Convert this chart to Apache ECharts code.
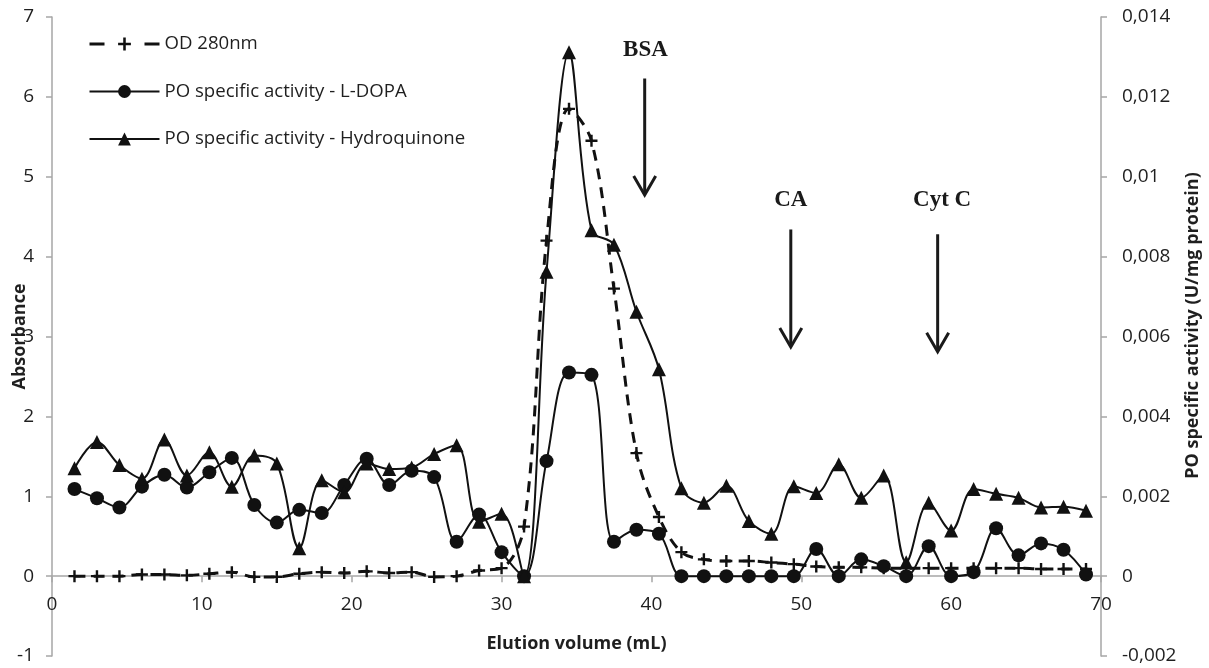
<!DOCTYPE html>
<html>
<head>
<meta charset="utf-8">
<script src="https://cdn.jsdelivr.net/npm/echarts@6/dist/echarts.min.js"></script>
<style>
html,body{margin:0;padding:0;background:#fff;}
#chart{width:1209px;height:668px;}
</style>
</head>
<body>
<div id="chart"></div>
<script>
// Elution volume (mL)
const elutionVolume = [1.5, 3, 4.5, 6, 7.5, 9, 10.5, 12, 13.5, 15, 16.5, 18, 19.5, 21, 22.5, 24, 25.5, 27, 28.5, 30, 31.5,
  33, 34.5, 36, 37.5, 39, 40.5, 42, 43.5, 45, 46.5, 48, 49.5, 51, 52.5, 54, 55.5, 57, 58.5, 60, 61.5, 63, 64.5, 66, 67.5, 69];

// OD 280nm (Absorbance, left axis)
const od280 = [0, 0, 0, 0.02, 0.02, 0.01, 0.03, 0.05, -0.01, -0.01, 0.03, 0.05, 0.04, 0.06, 0.04, 0.05, -0.01, 0, 0.07, 0.10, 0.62,
  4.2, 5.85, 5.45, 3.6, 1.54, 0.74, 0.30, 0.21, 0.19, 0.19, 0.17, 0.15, 0.12, 0.11, 0.11, 0.10, 0.10, 0.10, 0.10, 0.10, 0.10, 0.10, 0.09, 0.09, 0.09];

// PO specific activity - L-DOPA (U/mg protein, right axis)
const poLDopa = [0.00218, 0.00195, 0.00172, 0.00224, 0.00254, 0.00222, 0.00260, 0.00296, 0.00178, 0.00134, 0.00166, 0.00158, 0.00228, 0.00294, 0.00228, 0.00264, 0.00248, 0.00086, 0.00154, 0.00060, 0,
  0.00288, 0.00510, 0.00504, 0.00086, 0.00116, 0.00106, 0, 0, 0, 0, 0, 0, 0.00068, 0, 0.00042, 0.00025, 0, 0.00075, 0, 0.00010, 0.00120, 0.00052, 0.00082, 0.00066, 0.00004];

// PO specific activity - Hydroquinone (U/mg protein, right axis)
const poHydroquinone = [0.00270, 0.00336, 0.00278, 0.00244, 0.00342, 0.00252, 0.00310, 0.00224, 0.00302, 0.00282, 0.00070, 0.00240, 0.00210, 0.00282, 0.00268, 0.00272, 0.00306, 0.00328, 0.00136, 0.00156, 0,
  0.00762, 0.01312, 0.00866, 0.00830, 0.00662, 0.00518, 0.00220, 0.00184, 0.00226, 0.00138, 0.00106, 0.00225, 0.00208, 0.00280, 0.00196, 0.00252, 0.00035, 0.00184, 0.00114, 0.00218, 0.00206, 0.00196, 0.00172, 0.00174, 0.00164];

// Marker annotations: label, x (mL), text y, arrow top y, arrow bottom y (Absorbance units)
const markerLabels = ['BSA', 'CA', 'Cyt C'];
const markerTextX = [39.6, 49.3, 59.4];
const markerTextY = [6.58, 4.71, 4.71];
const markerArrowX = [39.55, 49.3, 59.1];
const markerArrowTop = [6.23, 4.34, 4.28];
const markerArrowBottom = [4.77, 2.87, 2.81];

const seriesNames = ['OD 280nm', 'PO specific activity - L-DOPA', 'PO specific activity - Hydroquinone'];

function pairs(xs, ys) { return xs.map((x, i) => [x, ys[i]]); }

const FONT = '"Open Sans", "DejaVu Sans", sans-serif';
const AXIS_GRAY = '#a6a6a6';
const TEXT = '#1f1f1f';
const plusPath = 'path://M4,0 H6 V4 H10 V6 H6 V10 H4 V6 H0 V4 H4 Z';

const GRID_TOP = 17, GRID_BOTTOM = 12, CHART_H = 668;
const Y_MIN = -1, Y_MAX = 7;
// x axis sits on the y = 0 line of the left axis
const xAxisOffset = -(0 - Y_MIN) / (Y_MAX - Y_MIN) * (CHART_H - GRID_TOP - GRID_BOTTOM);

const chart = echarts.init(document.getElementById('chart'), null, {renderer: 'canvas'});

const option = {
  animation: false,
  backgroundColor: '#ffffff',
  grid: {left: 52, right: 108, top: GRID_TOP, bottom: GRID_BOTTOM, containLabel: false, outerBoundsMode: 'none'},
  legend: {
    orient: 'vertical',
    left: 88,
    top: 34,
    padding: 0,
    itemWidth: 70,
    itemHeight: 16,
    itemGap: 27.5,
    textStyle: {fontFamily: FONT, fontSize: 18.6, color: TEXT, lineHeight: 20},
    data: [
      {name: seriesNames[0], lineStyle: {width: 3, type: [15, 40], color: '#111'}},
      {name: seriesNames[1], lineStyle: {width: 2, color: '#111'}},
      {name: seriesNames[2], lineStyle: {width: 2, color: '#111'}}
    ]
  },
  xAxis: {
    type: 'value',
    position: 'bottom',
    offset: xAxisOffset,
    min: 0, max: 70, interval: 10,
    name: 'Elution volume (mL)',
    nameLocation: 'middle',
    nameGap: 59,
    nameMoveOverlap: false,
    nameTextStyle: {fontFamily: FONT, fontSize: 18, fontWeight: 'bold', color: TEXT},
    axisLine: {show: true, onZero: false, lineStyle: {color: AXIS_GRAY, width: 1.5}},
    axisTick: {show: true, length: 6, lineStyle: {color: AXIS_GRAY, width: 1.5}},
    axisLabel: {fontFamily: FONT, fontSize: 19, color: TEXT, margin: 19},
    splitLine: {show: false}
  },
  yAxis: [
    {
      type: 'value',
      position: 'left',
      min: Y_MIN, max: Y_MAX, interval: 1,
      name: 'Absorbance',
      nameLocation: 'middle',
      nameRotate: 90,
      nameGap: 23,
      nameMoveOverlap: false,
      nameTextStyle: {fontFamily: FONT, fontSize: 18, fontWeight: 'bold', color: TEXT},
      axisLine: {show: true, onZero: false, lineStyle: {color: AXIS_GRAY, width: 1.5}},
      axisTick: {show: true, length: 6, lineStyle: {color: AXIS_GRAY, width: 1.5}},
      axisLabel: {fontFamily: FONT, fontSize: 19, color: TEXT, margin: 18},
      splitLine: {show: false}
    },
    {
      type: 'value',
      position: 'right',
      min: -0.002, max: 0.014, interval: 0.002,
      name: 'PO specific activity (U/mg protein)',
      nameLocation: 'middle',
      nameRotate: 90,
      nameGap: 83,
      nameMoveOverlap: false,
      nameTextStyle: {fontFamily: FONT, fontSize: 18, fontWeight: 'bold', color: TEXT, padding: [0, 0, 0, 22]},
      axisLine: {show: true, onZero: false, lineStyle: {color: AXIS_GRAY, width: 1.5}},
      axisTick: {show: true, length: 6, lineStyle: {color: AXIS_GRAY, width: 1.5}},
      axisLabel: {
        fontFamily: FONT, fontSize: 19, color: TEXT, margin: 21,
        formatter: function (v) {
          const r = Math.round(v * 1000) / 1000;
          return r === 0 ? '0' : String(r).replace('.', ',');
        }
      },
      splitLine: {show: false}
    }
  ],
  series: [
    {
      name: seriesNames[0],
      type: 'line',
      yAxisIndex: 0,
      data: pairs(elutionVolume, od280),
      smooth: 0.35,
      symbol: plusPath,
      symbolSize: 12,
      itemStyle: {color: '#111'},
      lineStyle: {color: '#111', width: 3, type: [11, 8]},
      z: 2
    },
    {
      name: seriesNames[1],
      type: 'line',
      yAxisIndex: 1,
      data: pairs(elutionVolume, poLDopa),
      smooth: 0.35,
      symbol: 'circle',
      symbolSize: 14,
      itemStyle: {color: '#111'},
      lineStyle: {color: '#111', width: 2},
      z: 3
    },
    {
      name: seriesNames[2],
      type: 'line',
      yAxisIndex: 1,
      data: pairs(elutionVolume, poHydroquinone),
      smooth: 0.35,
      symbol: 'triangle',
      symbolSize: 14,
      itemStyle: {color: '#111'},
      lineStyle: {color: '#111', width: 2},
      z: 4
    }
  ]
};

chart.setOption(option);

function drawAnnotations() {
  const elements = [];
  for (let i = 0; i < markerLabels.length; i++) {
    const t = chart.convertToPixel({xAxisIndex: 0, yAxisIndex: 0}, [markerTextX[i], markerTextY[i]]);
    const a = chart.convertToPixel({xAxisIndex: 0, yAxisIndex: 0}, [markerArrowX[i], markerArrowTop[i]]);
    const b = chart.convertToPixel({xAxisIndex: 0, yAxisIndex: 0}, [markerArrowX[i], markerArrowBottom[i]]);
    elements.push({
      type: 'text',
      x: t[0], y: t[1],
      style: {
        text: markerLabels[i],
        fontFamily: '"Liberation Serif", "Times New Roman", serif',
        fontWeight: 'bold',
        fontSize: 23,
        fill: '#1a1a1a',
        align: 'center',
        verticalAlign: 'middle'
      },
      z: 100
    });
    elements.push({
      type: 'line',
      shape: {x1: a[0], y1: a[1], x2: b[0], y2: b[1] - 1},
      style: {stroke: '#1a1a1a', lineWidth: 3},
      z: 100
    });
    elements.push({
      type: 'polyline',
      shape: {points: [[b[0] - 11, b[1] - 19], [b[0], b[1]], [b[0] + 11, b[1] - 19]]},
      style: {stroke: '#1a1a1a', lineWidth: 3, fill: null},
      z: 100
    });
  }
  chart.setOption({graphic: {elements: elements}});
}
drawAnnotations();
</script>
</body>
</html>
